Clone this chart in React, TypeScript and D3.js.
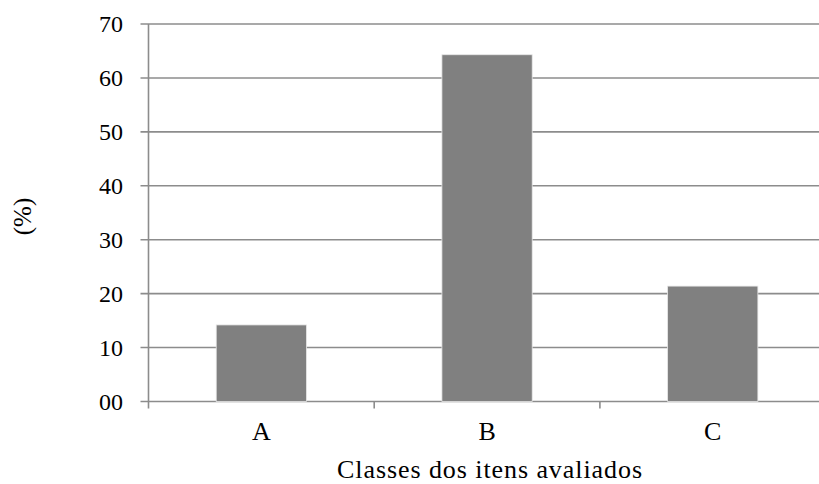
import React from "react";
import * as d3 from "d3";

const categories = ["A", "B", "C"];
const values = [14.2, 64.3, 21.4];
const yTicks = [0, 10, 20, 30, 40, 50, 60, 70];
const yTickLabels = ["00", "10", "20", "30", "40", "50", "60", "70"];
const xTitle = "Classes dos itens avaliados";
const yTitle = "(%)";

export default function App() {
  const W = 819, H = 484;
  const left = 148.5, top = 24, bottom = 401.5;
  const step = 225.7;
  const x = d3.scaleBand<string>().domain(categories).range([left, left + step * 3]).paddingInner(0.6).paddingOuter(0.3);
  const y = d3.scaleLinear().domain([0, 70]).range([bottom, top]);
  const font = "Liberation Serif, Times New Roman, serif";
  const gridColor = "#8c8c8c";
  return (
    <svg width={W} height={H} style={{ position: "absolute", left: 0, top: 0 }}>
      <rect width={W} height={H} fill="#fff" />
      {yTicks.map((t, i) => (
        <g key={t}>
          <line x1={left - 8} x2={W} y1={y(t)} y2={y(t)} stroke={gridColor} strokeWidth={1.6} />
          <text x={123} y={y(t)} dy="0.34em" textAnchor="end" fontFamily={font} fontSize={24} fill="#000">{yTickLabels[i]}</text>
        </g>
      ))}
      <line x1={left} x2={left} y1={top} y2={bottom + 7} stroke={gridColor} strokeWidth={1.6} />
      {categories.map((c, i) => (
        <line key={"t" + c} x1={left + step * (i + 1)} x2={left + step * (i + 1)} y1={bottom} y2={bottom + 7} stroke={gridColor} strokeWidth={1.6} />
      ))}
      {categories.map((c, i) => (
        <rect key={c} x={x(c)} y={y(values[i])} width={x.bandwidth()} height={bottom - y(values[i])} fill="#808080" stroke="#e8e8e8" strokeWidth={0.8} />
      ))}
      {categories.map((c) => (
        <text key={"l" + c} x={(x(c) as number) + x.bandwidth() / 2} y={440} textAnchor="middle" fontFamily={font} fontSize={26} fill="#000">{c}</text>
      ))}
      <text x={489.5} y={478} textAnchor="middle" fontFamily={font} fontSize={26} textLength={305} lengthAdjust="spacing" fill="#000">{xTitle}</text>
      <text transform={`translate(31,216.5) rotate(-90)`} textAnchor="middle" fontFamily={font} fontSize={25} fill="#000">{yTitle}</text>
    </svg>
  );
}
